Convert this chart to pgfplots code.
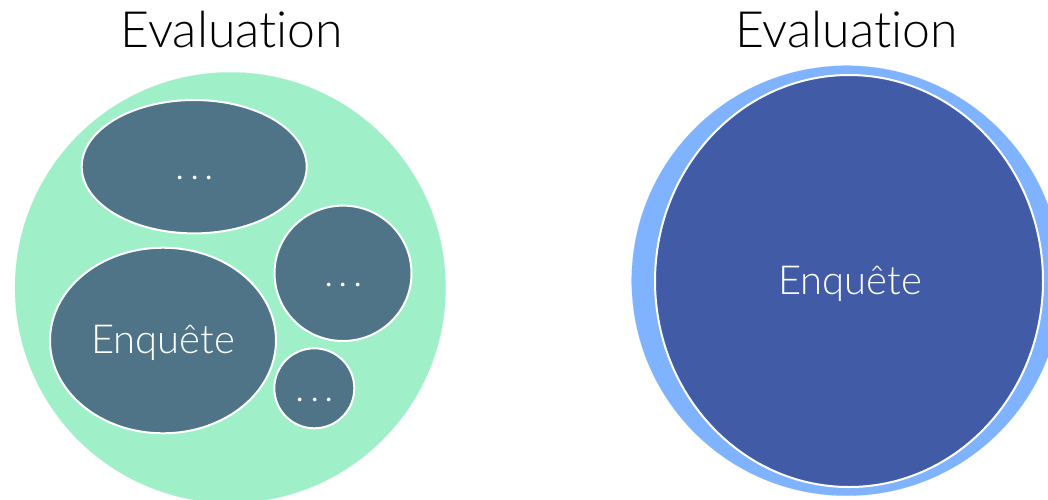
\documentclass[border=0pt]{standalone}
\usepackage{pgfplots}
\pgfplotsset{compat=1.18}
\usepackage{fontspec}
\setmainfont{Lato}[UprightFont={* Light}, Ligatures=NoCommon]
\definecolor{mint}{HTML}{9FEFC8}
\definecolor{slate}{HTML}{4F7487}
\definecolor{lblue}{HTML}{7FB2FF}
\definecolor{dblue}{HTML}{415BA6}
\begin{document}
\begin{tikzpicture}
\begin{axis}[x=1pt, y=1pt, xmin=0, xmax=1048, ymin=0, ymax=499,
  y dir=reverse, hide axis, clip marker paths=true]
% left: outer circle (radius 215.3)
\addplot[only marks, mark=*, mark size=215.3pt, mark options={fill=mint, draw=mint, line width=0.1pt}] coordinates {(230.3,287.6)};
% inner ellipses: y radius as mark size, x/y ratio as xscale
\addplot[only marks, mark=*, mark size=66.7pt, mark options={xscale=1.6867, fill=slate, draw=white, line width=2pt}] coordinates {(194.2,166.7)};
\addplot[only marks, mark=*, mark size=67.7pt, mark options={xscale=1.0118, fill=slate, draw=white, line width=2pt}] coordinates {(343.0,273.3)};
\addplot[only marks, mark=*, mark size=92.8pt, mark options={xscale=1.2177, fill=slate, draw=white, line width=2pt}] coordinates {(163.0,340.5)};
\addplot[only marks, mark=*, mark size=40pt, mark options={fill=slate, draw=white, line width=2pt}] coordinates {(314.3,388.3)};
% right
\addplot[only marks, mark=*, mark size=215pt, mark options={fill=lblue, draw=lblue, line width=0.1pt}] coordinates {(846.7,280.7)};
\addplot[only marks, mark=*, mark size=206pt, mark options={xscale=0.9417, fill=dblue, draw=white, line width=2pt}] coordinates {(849.0,281.0)};
\node[anchor=base, text=black, font=\fontsize{50}{58}\selectfont] at (axis cs:232,47.3) {Evaluation};
\node[anchor=base, text=black, font=\fontsize{50}{58}\selectfont] at (axis cs:846.5,47.3) {Evaluation};
\node[anchor=base, text=white, font=\fontsize{40}{48}\selectfont] at (axis cs:163,353.3) {Enquête};
\node[anchor=base, text=white, font=\fontsize{40}{48}\selectfont] at (axis cs:850,294.3) {Enquête};
\node[anchor=base, text=white, font=\fontsize{40}{48}\selectfont] at (axis cs:195,179) {.\hspace{5pt}.\hspace{5pt}.};
\node[anchor=base, text=white, font=\fontsize{40}{48}\selectfont] at (axis cs:343.3,286) {.\hspace{5pt}.\hspace{5pt}.};
\node[anchor=base, text=white, font=\fontsize{40}{48}\selectfont] at (axis cs:315,401.5) {.\hspace{5pt}.\hspace{5pt}.};
\end{axis}
\pgfresetboundingbox
\path[use as bounding box] (current axis.south west) rectangle (current axis.north east);
\end{tikzpicture}
\end{document}
